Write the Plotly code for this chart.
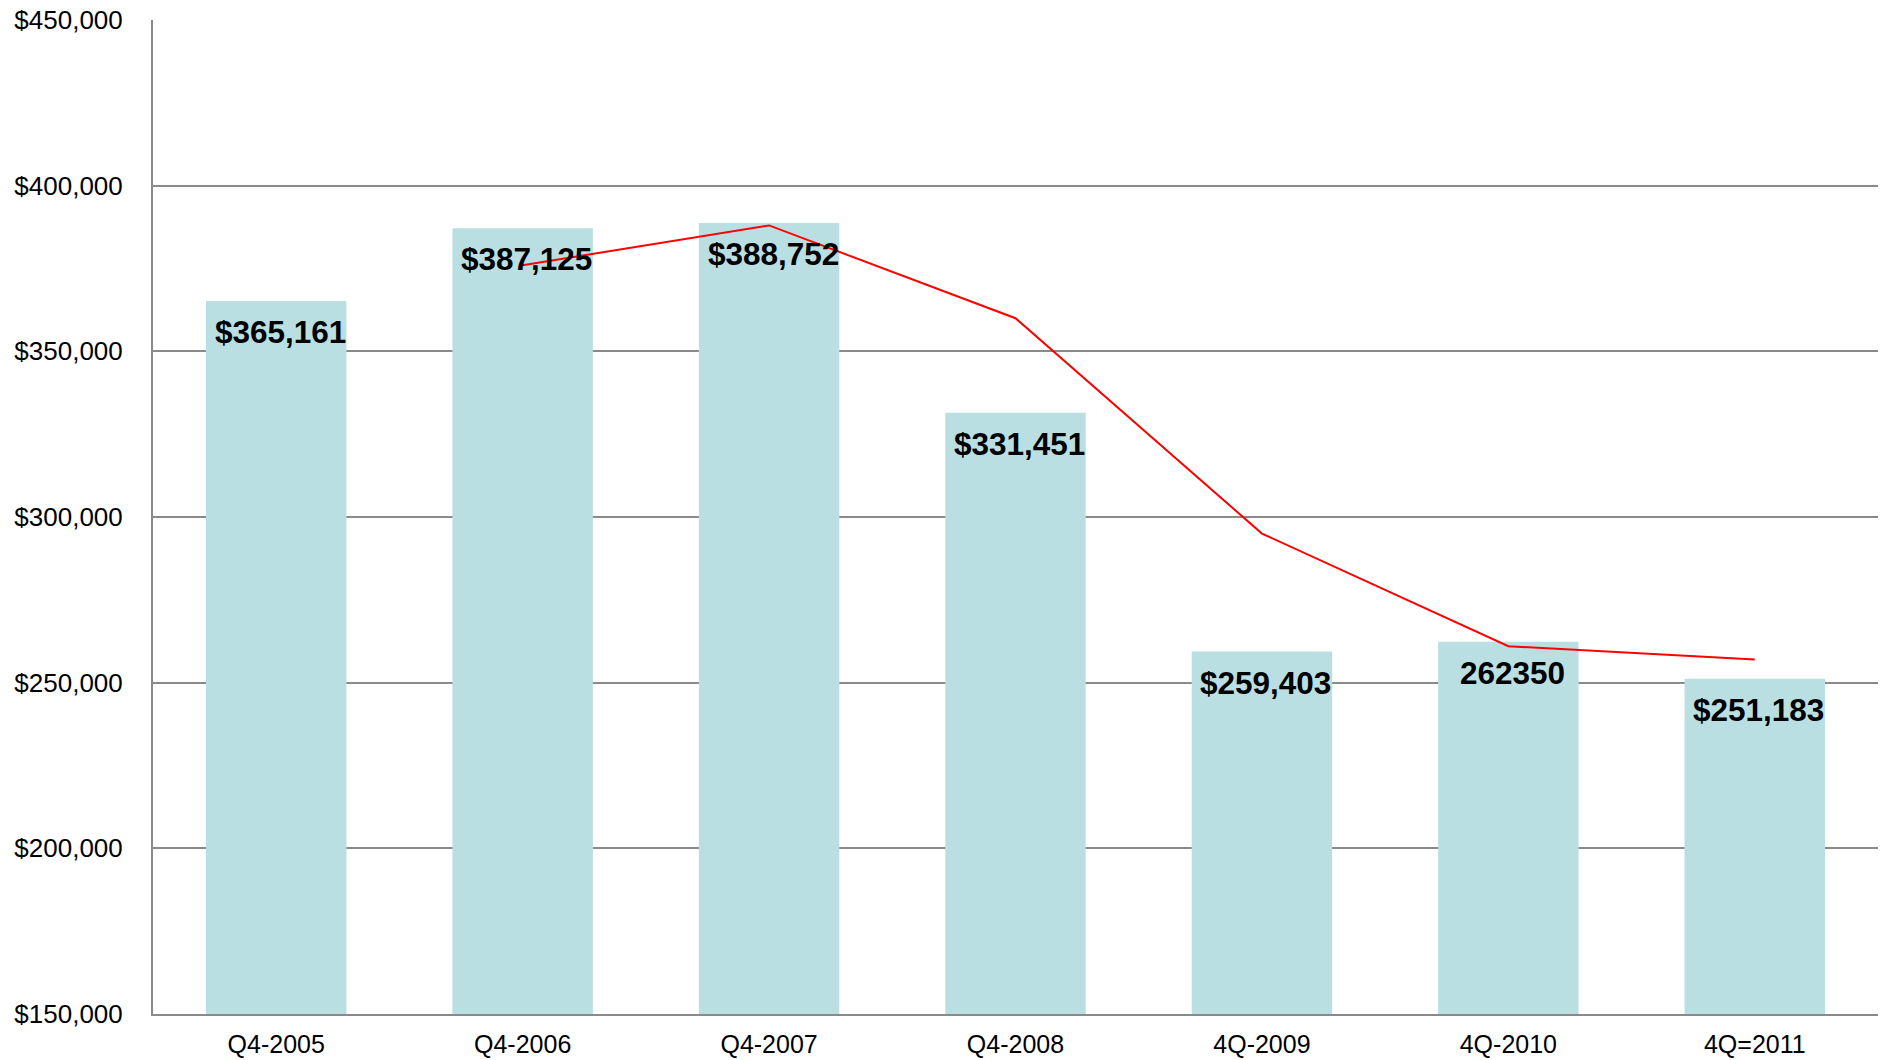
import plotly.graph_objects as go

categories = ["Q4-2005", "Q4-2006", "Q4-2007", "Q4-2008", "4Q-2009", "4Q-2010", "4Q=2011"]
bar_values = [365161, 387125, 388752, 331451, 259403, 262350, 251183]
bar_labels = ["$365,161", "$387,125", "$388,752", "$331,451", "$259,403", "262350", "$251,183"]
line_values = [None, 376000, 388000, 360000, 295000, 261000, 257000]
y_ticks = [150000, 200000, 250000, 300000, 350000, 400000, 450000]

FONT = "Liberation Sans, Arial, sans-serif"
GRID = "#8a8a8a"

fig = go.Figure()
fig.add_trace(go.Bar(
    x=categories, y=bar_values,
    marker=dict(color="#BADFE3", line=dict(width=0)),
    hoverinfo="skip",
))
fig.add_trace(go.Scatter(
    x=categories, y=line_values, mode="lines",
    line=dict(color="#FF0000", width=2),
    connectgaps=False, hoverinfo="skip",
))

for c, v, t in zip(categories, bar_values, bar_labels):
    fig.add_annotation(
        x=c, y=v, text="<b>%s</b>" % t, showarrow=False,
        xanchor="center", yanchor="top", yshift=-11, xshift=4,
        font=dict(family=FONT, size=31.5, color="#000000"),
    )

fig.update_layout(
    width=1881, height=1060,
    margin=dict(l=153, r=3, t=19.5, b=45.5),
    paper_bgcolor="white", plot_bgcolor="white",
    showlegend=False, bargap=0.43,
    font=dict(family=FONT, color="#000000"),
)
fig.update_yaxes(
    range=[150000, 450000], tickvals=y_ticks, tickformat="$,.0f",
    showgrid=True, gridcolor=GRID, gridwidth=2,
    showline=True, linecolor=GRID, linewidth=2,
    zeroline=False, ticks="", ticklabelstandoff=23, automargin=False,
    tickfont=dict(family=FONT, size=26, color="#000000"),
)
fig.update_xaxes(
    showgrid=False, showline=True, linecolor=GRID, linewidth=2,
    ticks="", ticklabelstandoff=7, automargin=False,
    tickfont=dict(family=FONT, size=25, color="#000000"),
)

fig.write_html(
    "out.html",
    config={"displayModeBar": False},
    post_script="document.body.style.margin='0';document.body.style.padding='0';document.body.style.overflow='hidden';",
)
